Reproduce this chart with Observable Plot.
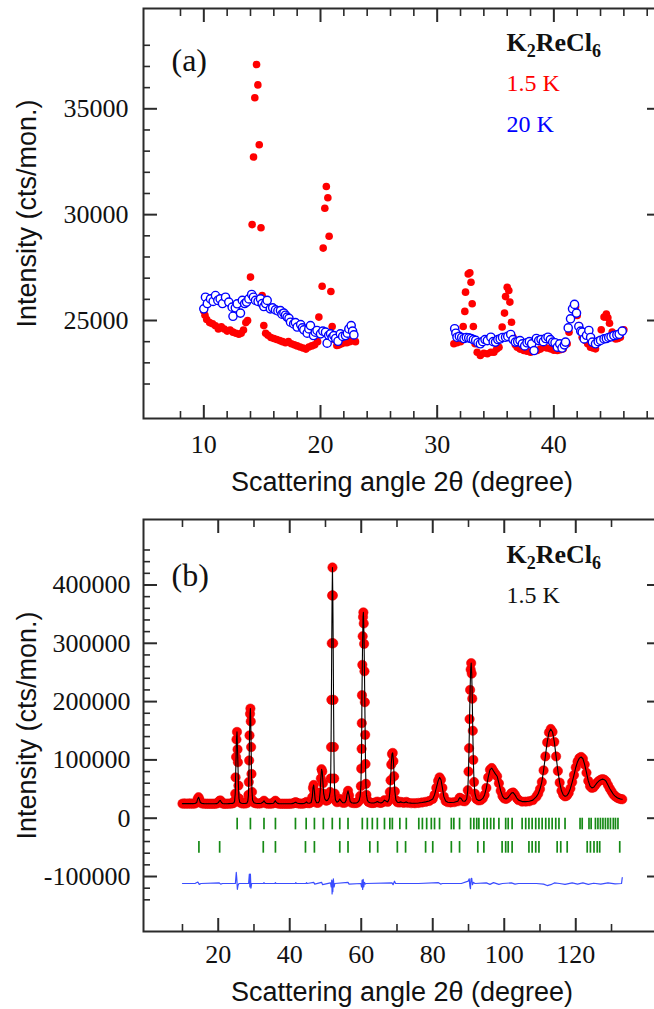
<!DOCTYPE html>
<html><head><meta charset="utf-8">
<script src="https://cdn.jsdelivr.net/npm/d3@7"></script>
<script src="https://cdn.jsdelivr.net/npm/@observablehq/plot@0.6"></script>
<style>
body{margin:0;background:#fff;}
.panel{width:654px;overflow:hidden;}
</style></head><body>
<div id="a" class="panel"></div><div id="b" class="panel"></div>
<script>
// ---------------- Panel (a) data ----------------
const redTheta = [10.0,10.1,10.25,10.5,10.75,11.0,11.25,11.5,11.75,12.0,12.25,12.5,12.75,13.0,13.2,13.4,13.6,13.75,14.0,14.14,14.26,14.37,14.52,14.63,14.75,14.9,15.0,15.14,15.3,15.5,15.75,16.0,16.25,16.5,16.75,17.0,17.25,17.5,17.75,18.0,18.25,18.5,18.75,19.0,19.25,19.5,19.75,19.86,20.14,20.23,20.37,20.5,20.63,20.74,20.89,21.0,21.2,21.4,21.6,21.8,22.0,22.25,22.5,22.75,23.0,
31.43,31.7,32.0,32.23,32.37,32.43,32.66,32.8,32.9,33.0,33.1,33.25,33.43,33.7,34.0,34.3,34.6,34.86,35.1,35.3,35.57,35.77,35.86,36.0,36.14,36.23,36.37,36.5,36.7,36.86,37.1,37.43,37.7,38.0,38.3,38.57,38.85,39.14,39.4,39.7,40.0,40.3,40.55,40.8,41.14,41.3,41.43,41.66,41.86,42.0,42.14,42.43,42.7,42.9,43.14,43.35,43.57,43.86,44.06,44.3,44.5,44.63,44.77,45.0,45.3,45.5,45.7,46.0];
const redCounts = [25450,25250,25050,24900,24850,24750,24600,24700,24600,24500,24550,24450,24400,24350,24400,24550,24900,25000,27050,29530,32720,35520,37090,36130,33300,29380,26180,24760,24400,24300,24200,24150,24100,24050,24000,23950,24000,23900,23850,23800,23750,23700,23650,23750,23800,23850,24000,25160,26620,28420,30300,31330,30800,28980,26370,24720,24100,23820,23850,23900,23950,23950,24000,24050,24000,
23900,23950,24000,24720,25430,26340,27200,27250,26810,25790,24720,23900,23500,23350,23450,23430,23500,23500,23650,23740,24690,25350,26130,26570,26420,25870,24920,24210,23850,23740,23650,23580,23550,23500,23550,23580,23650,23740,23700,23660,23600,23580,23620,23660,23900,24450,25080,25630,25660,25240,24760,24210,24060,23900,23740,23700,23660,24060,24560,25160,25310,25130,24870,24450,24130,24150,24210,24560];
const blueTheta = [10.0,10.14,10.3,10.57,10.8,11.0,11.2,11.4,11.6,11.86,12.14,12.43,12.5,12.7,12.86,13.14,13.3,13.5,13.66,13.86,14.1,14.25,14.43,14.65,14.86,15.0,15.14,15.3,15.43,15.7,15.9,16.14,16.35,16.57,16.7,16.86,17.0,17.14,17.3,17.43,17.7,17.85,18.0,18.3,18.45,18.57,18.86,19.0,19.14,19.4,19.55,19.7,20.0,20.2,20.43,20.57,20.7,20.86,21.0,21.14,21.3,21.5,21.7,21.9,22.14,22.3,22.43,22.63,22.75,22.86,
31.5,31.6,31.7,31.9,32.1,32.3,32.5,32.7,32.9,33.1,33.3,33.5,33.7,33.9,34.1,34.3,34.6,34.8,35.0,35.2,35.4,35.6,35.86,36.05,36.3,36.5,36.7,36.9,37.1,37.3,37.5,37.7,37.9,38.1,38.3,38.5,38.7,38.9,39.1,39.3,39.5,39.7,39.9,40.1,40.3,40.5,40.7,40.9,41.0,41.23,41.43,41.6,41.77,41.94,42.14,42.3,42.43,42.6,42.8,43.0,43.15,43.3,43.57,43.8,44.0,44.3,44.5,44.7,44.9,45.14,45.4,45.6,45.86];
const blueCounts = [25550,26100,25800,26020,25900,26180,25950,26020,25800,26100,25870,25630,25200,25600,25790,25350,25950,25800,25870,26020,26230,26100,25950,25900,26020,25800,25660,25800,25950,25550,25600,25500,25450,25470,25300,25350,25250,25160,25100,24920,24840,24900,24690,24810,24650,24560,24400,24600,24760,24290,24450,24530,24370,24500,24450,23930,24300,24370,24200,24290,24150,24020,24370,24250,24290,24400,24600,24760,24500,24320,
24610,24400,24210,24250,24200,24150,24200,24180,24150,24100,24060,23950,23900,24000,24100,24050,24210,24000,23980,24100,24130,24200,24210,24250,24340,24100,23980,24000,24050,23900,23800,23950,24000,23900,23580,24150,24050,24100,24000,24150,24210,24100,23980,23950,23740,23900,23700,23850,23980,24650,25080,25550,25760,25350,24720,24500,24450,24130,24300,24530,24200,23980,23900,24000,24060,24130,24150,24200,24230,24290,24320,24350,24500];
const aXTicks = [10, 20, 30, 40];
const aXMinor = [8, 12, 14, 16, 18, 22, 24, 26, 28, 32, 34, 36, 38, 42, 44, 46, 48];
const aYTicks = [25000, 30000, 35000];
const aYMinor = [22000, 23000, 24000, 26000, 27000, 28000, 29000, 31000, 32000, 33000, 34000, 36000, 37000, 38000];
const aXDomain = [4.83, 49.14];
const aYDomain = [20371, 39738];

// ---------------- Panel (b) data ----------------
const obsTheta = [10.0,10.5,11.0,11.5,12.0,12.5,13.0,13.5,14.0,14.25,14.5,14.75,15.0,15.5,16.0,16.5,17.0,17.5,18.0,18.5,19.0,19.5,20.0,20.3,20.6,20.9,21.2,21.6,22.0,22.5,23.0,23.5,24.0,24.4,24.6,24.75,24.85,25.0,25.1,25.25,25.4,25.5,25.65,25.8,26.0,26.5,27.0,27.5,28.0,28.3,28.45,28.55,28.65,28.75,28.9,29.0,29.1,29.2,29.3,29.45,29.6,30.0,30.5,31.0,31.5,32.0,32.5,32.8,33.1,33.5,34.0,34.5,35.0,35.5,35.8,36.0,36.2,36.6,37.0,37.5,38.0,38.5,39.0,39.5,40.0,40.5,41.0,41.4,41.7,42.0,42.5,43.0,43.5,44.0,44.4,44.7,45.0,45.5,46.0,46.3,46.5,46.7,46.9,47.1,47.5,48.0,48.3,48.5,48.7,48.9,49.1,49.3,49.5,49.8,50.2,50.6,51.0,51.3,51.45,51.55,51.65,51.75,51.85,51.95,52.05,52.15,52.25,52.35,52.45,52.6,52.8,53.2,53.6,54.0,54.3,54.8,55.4,55.8,56.0,56.3,56.6,56.9,57.3,58.0,58.6,59.0,59.4,59.7,59.9,60.0,60.1,60.15,60.2,60.3,60.4,60.5,60.6,60.7,60.8,60.9,61.0,61.1,61.2,61.3,61.45,61.7,62.0,62.5,63.0,63.5,64.0,64.5,65.0,65.5,66.0,66.5,66.9,67.4,67.8,68.0,68.2,68.4,68.6,68.8,69.0,69.2,69.4,69.7,70.1,70.6,71.0,71.5,72.0,72.6,73.0,74.0,75.0,76.0,77.0,78.0,79.0,80.0,80.5,81.0,81.5,81.9,82.3,82.7,83.1,83.6,84.2,85.0,86.0,87.0,87.5,87.9,88.4,89.0,89.5,89.8,90.0,90.15,90.3,90.45,90.6,90.75,90.9,91.05,91.2,91.35,91.55,91.8,92.2,92.8,93.4,94.0,94.5,95.0,95.5,96.0,96.5,97.0,97.5,98.0,98.5,99.0,99.5,100.0,100.5,101.0,101.5,102.0,102.5,103.0,103.5,104.0,105.0,106.0,107.0,108.0,109.0,109.5,110.0,110.5,111.0,111.5,112.0,112.5,113.0,113.5,114.0,114.5,115.0,115.5,116.0,116.5,117.0,117.5,118.0,118.5,119.0,119.5,120.0,120.5,121.0,121.5,122.0,122.5,123.0,123.5,124.0,124.5,125.0,125.5,126.0,126.5,127.0,127.5,128.0,128.5,129.0,129.5,130.0,130.5,131.0,131.5,132.0,132.5,133.0];
const obsCounts = [25000,25100,25000,25000,25100,25000,25000,25200,27000,33000,36000,32000,27000,25200,25000,24900,24800,24800,24800,24800,24900,25000,26500,29500,30500,27000,25200,24900,24900,24900,25000,25100,25400,26500,30000,42000,70000,105000,135000,148000,118000,96000,56000,34000,27500,25600,25300,25300,25800,30000,40000,62000,99000,142000,179000,188000,166000,122000,76000,45000,31000,26500,25600,25300,25300,25600,27500,30000,27000,25300,25000,25000,25100,25800,28500,30000,27500,25400,25000,24800,24800,24800,24800,24800,24900,25000,25400,26800,27500,26000,25200,25000,25000,25300,26500,28000,26000,25600,27000,36000,52000,57000,46000,32000,26500,26500,30000,44000,68000,84000,80000,60000,42000,33000,30000,31000,35000,45000,68000,122000,203000,300000,382000,430000,382000,300000,203000,122000,68000,42000,31000,27500,28500,33000,30000,26500,26500,31000,40000,47000,39000,29000,26500,25800,26000,27000,30000,38000,55000,85000,119000,163000,211000,263000,312000,345000,353000,334000,299000,252000,199000,143000,93000,59000,40000,31000,28000,26500,26000,26200,27000,28500,26800,26200,27500,31000,29500,28000,33000,45000,65000,92000,110000,112000,98000,72000,46000,31000,27500,27000,28000,27000,26500,28000,26500,25800,25700,26200,27000,28000,29500,33000,40000,52000,64000,70000,66000,52000,37000,29500,27500,27000,27500,29000,35000,34000,29500,29000,33000,48000,80000,120000,170000,220000,255000,266000,248000,205000,150000,100000,62000,42000,33000,30500,31000,34000,40000,52000,70000,83000,86000,81000,76000,72000,60000,47000,38000,34000,33000,35000,39000,43000,44000,40000,34500,31000,28500,28500,29000,31000,37000,42000,50000,62000,82000,106000,130000,147000,153000,148000,131000,106000,81000,61000,47000,40000,37500,38500,43000,51000,62000,74000,87000,97000,103000,105000,102000,92000,78000,64000,55000,52000,53000,57000,61000,64000,66000,67000,66000,63000,57000,51000,46000,41000,38000,35500,34000,33000,32500];
const diffTheta = [10,13.5,14.3,14.7,15.2,20.3,20.7,21.2,24.8,25.05,25.2,25.35,25.55,25.8,28.5,28.7,28.85,29.0,29.15,29.35,32.6,32.8,33.0,35.8,36.0,36.2,41.5,41.7,41.9,44.5,44.7,44.9,46.7,47.0,48.9,49.2,51.4,51.6,51.75,51.85,51.95,52.05,52.2,52.4,52.6,56.3,56.6,59.9,60.1,60.25,60.4,60.55,60.7,60.9,61.1,61.4,68.6,68.9,69.3,69.6,76,81.6,82.2,82.7,88,89.9,90.2,90.4,90.55,90.7,90.9,91.1,91.4,91.8,95,96,97,98.5,99.5,102,103,104,109,111,112,113,114,115.5,117,119,120.5,122,123.5,125,127,129,131,132.8,133];
const diffCounts = [-112000,-112000,-109500,-113500,-112000,-111000,-113000,-112000,-112000,-93000,-104000,-122000,-115000,-112000,-112000,-96000,-118000,-96000,-120000,-112000,-112000,-110500,-112000,-112000,-110500,-112000,-112000,-110500,-112000,-112000,-110500,-112000,-110000,-113000,-110000,-114000,-111000,-118000,-106000,-130000,-108000,-126000,-104000,-118000,-112000,-110000,-113000,-112000,-118000,-106000,-122000,-105000,-118000,-110000,-113000,-112000,-111000,-114000,-108000,-112000,-112000,-110500,-113000,-112000,-112000,-108000,-104000,-117000,-121000,-104000,-103000,-114000,-110000,-112000,-111000,-113500,-110500,-113500,-112000,-111000,-113000,-112000,-112000,-113000,-115500,-114000,-111000,-112000,-113500,-111000,-113000,-111000,-113500,-111500,-113000,-111000,-112500,-112000,-102000];
const nuclearRefl = [25.3,29.0,32.8,36.0,41.6,44.6,46.9,49.4,51.9,54.0,56.3,60.3,61.7,63.1,64.5,66.5,68.0,68.7,70.8,72.6,76.1,77.1,78.3,79.6,80.5,81.9,85.2,85.9,87.5,90.6,91.5,92.3,92.9,94.3,95.2,96.2,97.1,98.5,100.4,101.1,102.2,105.0,106.0,106.9,107.8,108.8,109.7,110.6,111.6,112.5,113.4,114.4,115.3,117.0,121.2,121.8,123.7,124.3,125.5,126.2,126.9,127.6,128.3,129.0,129.7,130.5,131.1,131.8];
const magneticRefl = [14.6,20.4,32.6,36.0,44.4,46.9,54.0,56.3,62.4,64.6,70.1,72.4,78.0,80.0,85.2,87.5,92.6,94.3,99.4,100.4,101.1,102.2,106.9,107.8,108.8,109.7,114.8,115.8,117.6,123.2,124.1,125.1,126.0,126.7,132.3];
const nuclearRow = [0, -20000];
const magneticRow = [-40000, -60000];
const bXTicks = [20, 40, 60, 80, 100, 120];
const bXMinor = [10, 30, 50, 70, 90, 110, 130];
const bYTicks = [-100000, 0, 100000, 200000, 300000, 400000];
const bYMinor = [-140000,-120000,-80000,-60000,-40000,-20000,20000,40000,60000,80000,120000,140000,160000,180000,220000,240000,260000,280000,320000,340000,360000,380000,420000,440000,460000];
const bXDomain = [-0.9, 143.7];
const bYDomain = [-194300, 512300];

// ---------------- helpers ----------------
const serif = "'Liberation Serif', 'Times New Roman', serif";
const sans = "'Liberation Sans', Arial, sans-serif";
const ink = "#2b2b2b";
const zip = (xs, ys) => xs.map((x, i) => ({x, y: ys[i]}));

function frameAxes(xT, xM, yT, yM, xPad, yPad) {
  const major = {stroke: ink, strokeWidth: 2, fill: "none", label: null};
  const minor = {stroke: ink, strokeWidth: 1.6, fill: "none", label: null};
  return [
    Plot.axisX(xT, {anchor: "bottom", tickSize: -13, ...major}),
    Plot.axisX(xT, {anchor: "top", tickSize: -13, ...major}),
    Plot.axisX(xM, {anchor: "bottom", tickSize: -7, ...minor}),
    Plot.axisX(xM, {anchor: "top", tickSize: -7, ...minor}),
    Plot.axisY(yT, {anchor: "left", tickSize: -14, ...major}),
    Plot.axisY(yT, {anchor: "right", tickSize: -14, ...major}),
    Plot.axisY(yM, {anchor: "left", tickSize: -7, ...minor}),
    Plot.axisY(yM, {anchor: "right", tickSize: -7, ...minor}),
    Plot.axisX(xT, {anchor: "bottom", tickSize: 0, tickPadding: xPad, fontSize: 26, fontFamily: serif, fill: "#111", label: null, tickFormat: d => String(d)}),
    Plot.axisY(yT, {anchor: "left", tickSize: 0, tickPadding: yPad, fontSize: 26, fontFamily: serif, fill: "#111", label: null, tickFormat: d => String(d)}),
    Plot.frame({stroke: ink, strokeWidth: 2})
  ];
}
function titles(dyX) {
  return [
    Plot.text(["Scattering angle 2θ (degree)"], {frameAnchor: "bottom", dy: dyX, lineAnchor: "bottom", fontSize: 27, fontFamily: sans, fill: "#111"}),
    Plot.text(["Intensity (cts/mon.)"], {frameAnchor: "left", dx: -116, rotate: -90, textAnchor: "middle", lineAnchor: "middle", fontSize: 27, fontFamily: sans, fill: "#111"})
  ];
}
function subscriptify(svg) {
  d3.select(svg).selectAll("text").filter(function() { return this.textContent === "K2ReCl6"; }).each(function() {
    const t = d3.select(this);
    t.text(null);
    t.append("tspan").text("K");
    t.append("tspan").attr("font-size", 18).attr("dy", 6).text("2");
    t.append("tspan").attr("dy", -6).text("ReCl");
    t.append("tspan").attr("font-size", 18).attr("dy", 6).text("6");
  });
  return svg;
}

// ---------------- Panel (a) ----------------
const plotA = Plot.plot({
  width: 668, height: 505,
  marginTop: 8, marginBottom: 87, marginLeft: 143, marginRight: 8,
  style: {maxWidth: "none", background: "white", overflow: "visible"},
  x: {domain: aXDomain, label: null},
  y: {domain: aYDomain, label: null},
  marks: [
    Plot.dot(zip(redTheta, redCounts), {x: "x", y: "y", r: 3.8, fill: "#ff0000"}),
    Plot.dot(zip(blueTheta, blueCounts), {x: "x", y: "y", r: 4.1, fill: "white", stroke: "#0000ff", strokeWidth: 1.4}),
    ...frameAxes(aXTicks, aXMinor, aYTicks, aYMinor, 16, 15),
    ...titles(72),
    Plot.text(["(a)"], {frameAnchor: "top-left", dx: 28, dy: 62, lineAnchor: "bottom", textAnchor: "start", fontSize: 32, fontFamily: serif, fill: "#111"}),
    Plot.text(["K2ReCl6"], {frameAnchor: "top-left", dx: 363, dy: 42, lineAnchor: "bottom", textAnchor: "start", fontSize: 26, fontWeight: "bold", fontFamily: serif, fill: "#111"}),
    Plot.text(["1.5 K"], {frameAnchor: "top-left", dx: 363, dy: 82.5, lineAnchor: "bottom", textAnchor: "start", fontSize: 24, fontFamily: serif, fill: "#ff0000"}),
    Plot.text(["20 K"], {frameAnchor: "top-left", dx: 363, dy: 123.5, lineAnchor: "bottom", textAnchor: "start", fontSize: 24, fontFamily: serif, fill: "#0000ff"})
  ]
});
document.getElementById("a").append(subscriptify(plotA));

// ---------------- Panel (b) ----------------
const obs = zip(obsTheta, obsCounts);
const plotB = Plot.plot({
  width: 668, height: 504,
  marginTop: 14, marginBottom: 78, marginLeft: 143, marginRight: 8,
  style: {maxWidth: "none", background: "white", overflow: "visible"},
  x: {domain: bXDomain, label: null},
  y: {domain: bYDomain, label: null},
  marks: [
    Plot.dot(obs, {x: "x", y: "y", r: 4.7, fill: "#ff0000", stroke: "#e00000", strokeWidth: 0.5}),
    Plot.line(obs, {x: "x", y: "y", stroke: "#000", strokeWidth: 1.1}),
    Plot.ruleX(nuclearRefl, {x: d => d, y1: nuclearRow[0], y2: nuclearRow[1], stroke: "#168a16", strokeWidth: 1.7}),
    Plot.ruleX(magneticRefl, {x: d => d, y1: magneticRow[0], y2: magneticRow[1], stroke: "#168a16", strokeWidth: 1.7}),
    Plot.line(zip(diffTheta, diffCounts), {x: "x", y: "y", stroke: "#3a4dff", strokeWidth: 1.2}),
    ...frameAxes(bXTicks, bXMinor, bYTicks, bYMinor, 13.5, 13),
    ...titles(69),
    Plot.text(["(b)"], {frameAnchor: "top-left", dx: 28, dy: 66, lineAnchor: "bottom", textAnchor: "start", fontSize: 32, fontFamily: serif, fill: "#111"}),
    Plot.text(["K2ReCl6"], {frameAnchor: "top-left", dx: 363, dy: 43, lineAnchor: "bottom", textAnchor: "start", fontSize: 26, fontWeight: "bold", fontFamily: serif, fill: "#111"}),
    Plot.text(["1.5 K"], {frameAnchor: "top-left", dx: 363, dy: 83, lineAnchor: "bottom", textAnchor: "start", fontSize: 24, fontFamily: serif, fill: "#111"})
  ]
});
document.getElementById("b").append(subscriptify(plotB));
</script></body></html>
